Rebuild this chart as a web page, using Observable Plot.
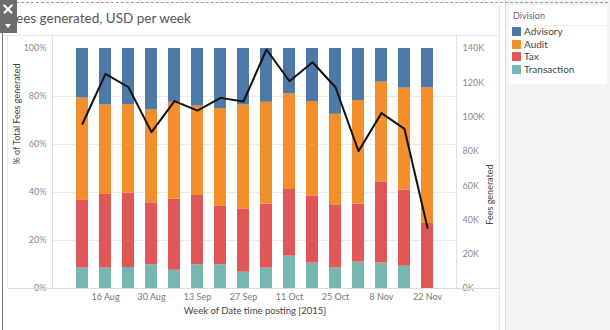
<!DOCTYPE html>
<html><head><meta charset="utf-8">
<script src="https://cdn.jsdelivr.net/npm/d3@7"></script>
<script src="https://cdn.jsdelivr.net/npm/@observablehq/plot@0.6"></script>
<style>
html,body{margin:0;padding:0;}
body{width:610px;height:330px;position:relative;overflow:hidden;background:#fff;font-family:Lato,"Open Sans",sans-serif;}
.abs{position:absolute;}
</style></head><body>
<div id="chart" class="abs" style="left:0;top:0"></div>
<div id="frame"></div>
<div id="legend" class="abs" style="left:509px;top:5px;width:98px;height:79px;background:#fff;"></div>
<script>
const weeks = ["9 Aug","16 Aug","23 Aug","30 Aug","6 Sep","13 Sep","20 Sep","27 Sep","4 Oct","11 Oct","18 Oct","25 Oct","1 Nov","8 Nov","15 Nov","22 Nov"];
const xTicks = ["16 Aug","30 Aug","13 Sep","27 Sep","11 Oct","25 Oct","8 Nov","22 Nov"];
const divisions = ["Advisory","Audit","Tax","Transaction"];
const colors = ["#4e79a7","#f28e2b","#e15759","#76b7b2"];
// % of total fees per week
const advisory    = [20.6, 23.5, 23.5, 25.6, 22.4, 24.0, 25.0, 23.5, 22.4, 18.9, 22.1, 27.4, 21.7, 14.0, 16.5, 16.4];
const audit       = [42.7, 37.3, 36.8, 38.7, 40.4, 37.25, 40.8, 43.5, 42.5, 39.85, 39.4, 38.0, 43.2, 41.8, 42.5, 56.5];
const tax         = [28.2, 30.7, 30.95, 25.8, 29.6, 28.85, 24.3, 26.2, 26.6, 27.75, 27.9, 26.1, 24.1, 33.6, 31.7, 27.1];
const transaction = [8.5, 8.5, 8.75, 9.9, 7.6, 9.9, 9.9, 6.8, 8.5, 13.5, 10.6, 8.5, 11.0, 10.6, 9.3, 0];
// total fees generated (USD)
const fees = [96100, 125200, 117400, 91200, 109300, 103800, 111200, 109100, 139400, 120900, 132000, 117400, 80100, 102300, 93100, 35400];
const leftTicks = [0, 20, 40, 60, 80, 100];
const gridTicks = [20, 40, 60, 80];
const rightTicks = [0, 20000, 40000, 60000, 80000, 100000, 120000, 140000];
const rightMax = 140000;
const title = "Fees generated, USD per week";
const yTitleLeft = "% of Total Fees generated";
const yTitleRight = "Fees generated";
const xTitle = "Week of Date time posting [2015]";
const legendTitle = "Division";

const series = {Advisory: advisory, Audit: audit, Tax: tax, Transaction: transaction};
const stackOrder = ["Transaction","Tax","Audit","Advisory"];
const rows = [];
weeks.forEach((w, i) => stackOrder.forEach(d => rows.push({week: w, division: d, pct: series[d][i]})));
const toPct = v => v / rightMax * 100;

const svg = Plot.plot({
  width: 500, height: 330,
  marginLeft: 52, marginRight: 43, marginTop: 48, marginBottom: 42,
  x: {type: "band", domain: weeks, paddingInner: 0.5, paddingOuter: 0.75, axis: null, label: null},
  y: {domain: [0, 100], axis: null, label: null},
  color: {domain: divisions, range: colors},
  style: {fontFamily: "Lato, 'Open Sans', sans-serif", fontSize: "9px", color: "#888", background: "transparent", overflow: "visible"},
  marks: [
    Plot.ruleY(gridTicks, {stroke: "#ebebeb", strokeWidth: 1}),
    Plot.barY(rows, Plot.stackY({x: "week", y: "pct", fill: "division"})),
    Plot.line(weeks, {x: d => d, y: (d, i) => toPct(fees[i]), stroke: "#111", strokeWidth: 2}),
    Plot.axisY({anchor: "left", ticks: leftTicks, tickSize: 0, tickPadding: 6, tickFormat: d => d + "%", label: null, fill: "#8a8a8a"}),
    Plot.axisY({anchor: "right", ticks: rightTicks.map(toPct), tickSize: 0, tickPadding: 5, tickFormat: d => Math.round(d * rightMax / 100000) + "K", label: null, fill: "#8a8a8a"}),
    Plot.axisX({ticks: xTicks, tickSize: 0, tickPadding: 5, label: null, fill: "#777"}),
    Plot.text([yTitleLeft], {frameAnchor: "left", dx: -35, dy: -4, rotate: -90, fill: "#444", fontSize: 9}),
    Plot.text([yTitleRight], {frameAnchor: "right", dx: 33, dy: -4, rotate: -90, fill: "#444", fontSize: 9}),
    Plot.text([xTitle], {frameAnchor: "bottom", dy: 25, fill: "#444", fontSize: 9.5})
  ]
});
document.getElementById("chart").appendChild(svg);

// frame (Tableau dashboard chrome)
const frame = document.getElementById("frame");
function box(style, html) {
  const d = document.createElement("div");
  d.className = "abs";
  d.setAttribute("style", style);
  if (html) d.innerHTML = html;
  frame.appendChild(d);
  return d;
}
box("left:505px;top:0;width:105px;height:330px;background:#f4f4f4;border-left:1px solid #dcdcdc;");
box("left:16px;top:2px;width:592px;height:0;border-top:1px dashed #9a9a9a;");
box("left:9px;top:10px;font-size:13.5px;color:#555;white-space:nowrap;", title);
box("left:4px;top:35px;width:495px;height:1px;background:#e4e4e4;");
box("left:7px;top:36px;width:1px;height:253px;background:#e8e8e8;");
box("left:52px;top:36px;width:1px;height:253px;background:#e2e2e2;");
box("left:456px;top:36px;width:1px;height:253px;background:#e2e2e2;");
box("left:8px;top:288px;width:491px;height:1px;background:#dcdcdc;");
box("left:499px;top:0;width:1px;height:330px;background:#e6e6e6;");
box("left:2px;top:33px;width:1px;height:297px;background:#777;");
// toolbar overlay with close (x) and dropdown icons drawn as shapes
box("left:0;top:0;width:17px;height:33px;background:#6d6d6d;");
box("left:2px;top:8px;width:12px;height:1.6px;background:#fff;transform:rotate(45deg);");
box("left:2px;top:8px;width:12px;height:1.6px;background:#fff;transform:rotate(-45deg);");
box("left:5px;top:24px;width:0;height:0;border-left:3px solid transparent;border-right:3px solid transparent;border-top:4px solid #fff;");

// legend
const lg = document.getElementById("legend");
const lt = document.createElement("div");
lt.className = "abs";
lt.setAttribute("style", "left:4px;top:5px;font-size:9px;color:#666;");
lt.textContent = legendTitle;
lg.appendChild(lt);
const sep = document.createElement("div");
sep.className = "abs";
sep.setAttribute("style", "left:0;top:20px;width:98px;height:1px;background:#eee;");
lg.appendChild(sep);
divisions.forEach((d, i) => {
  const y = 22 + i * 12.5;
  const sw = document.createElement("div");
  sw.className = "abs";
  sw.setAttribute("style", `left:3px;top:${y}px;width:9px;height:9px;background:${colors[i]};`);
  lg.appendChild(sw);
  const tx = document.createElement("div");
  tx.className = "abs";
  tx.setAttribute("style", `left:15px;top:${y - 2}px;font-size:10px;color:#444;white-space:nowrap;`);
  tx.textContent = d;
  lg.appendChild(tx);
});
</script>
</body></html>
